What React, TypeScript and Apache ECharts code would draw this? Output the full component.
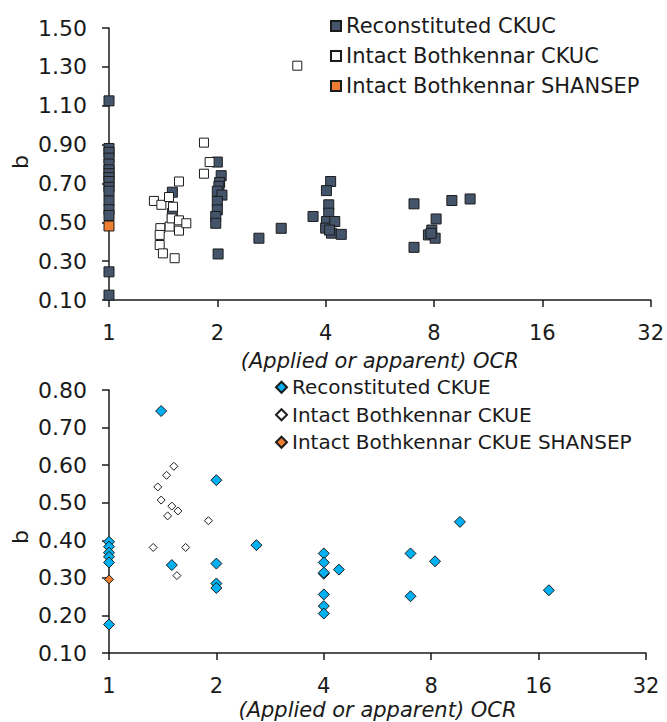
import React, { useEffect, useRef } from "react";
import * as echarts from "echarts";

// ---- Top panel (CKUC) ----
const recCkucX = [1, 1, 1, 1, 1, 1, 1, 1, 1, 1, 1, 1, 1, 1, 1, 1,
  1.5, 1.5,
  2, 2.05, 2.03, 2.02, 2, 2.06, 2, 2, 1.98, 1.98, 2.01,
  2.61, 3.01, 3.69, 4.13, 4.02, 4.08, 4.08, 4.02, 4.0, 4.24, 4.15, 4.42, 4.1,
  7.04, 7.04, 8.11, 7.89, 7.72, 8.06, 7.85, 8.97, 10.08];
const recCkucY = [1.125, 0.88, 0.86, 0.83, 0.80, 0.77, 0.75, 0.73, 0.71, 0.68, 0.66, 0.61, 0.565, 0.535, 0.245, 0.125,
  0.655, 0.545,
  0.81, 0.74, 0.705, 0.685, 0.66, 0.64, 0.607, 0.564, 0.53, 0.495, 0.337,
  0.418, 0.469, 0.53, 0.71, 0.663, 0.59, 0.547, 0.504, 0.47, 0.504, 0.444, 0.438, 0.46,
  0.595, 0.371, 0.517, 0.46, 0.435, 0.418, 0.443, 0.612, 0.62];

const intCkucX = [1.333, 1.398, 1.468, 1.565, 1.506, 1.389, 1.383, 1.383, 1.412, 1.522,
  1.474, 1.493, 1.565, 1.565, 1.64, 1.836, 1.904, 1.836, 3.336];
const intCkucY = [0.61, 0.59, 0.63, 0.71, 0.58, 0.47, 0.435, 0.383, 0.34, 0.315,
  0.478, 0.52, 0.51, 0.457, 0.495, 0.91, 0.81, 0.75, 1.306];

const shanCkucX = [1];
const shanCkucY = [0.481];

// ---- Bottom panel (CKUE) ----
const recCkueX = [1, 1, 1, 1, 1, 1,
  1.4, 1.5, 2, 2, 2, 2, 2.59,
  4, 4, 4, 4, 4, 4, 4, 4.41,
  7.0, 7.0, 8.2, 9.63, 17.1];
const recCkueY = [0.396, 0.383, 0.367, 0.356, 0.341, 0.176,
  0.744, 0.334, 0.56, 0.338, 0.285, 0.273, 0.387,
  0.365, 0.341, 0.311, 0.314, 0.256, 0.225, 0.205, 0.322,
  0.365, 0.251, 0.344, 0.449, 0.267];

const intCkueX = [1.33, 1.37, 1.40, 1.45, 1.52, 1.46, 1.50, 1.56, 1.64, 1.55, 1.90];
const intCkueY = [0.381, 0.542, 0.507, 0.573, 0.597, 0.465, 0.491, 0.478, 0.381, 0.306, 0.452];

const shanCkueX = [1];
const shanCkueY = [0.296];

const xTicks = [1, 2, 4, 8, 16, 32];

const pairs = (xs: number[], ys: number[]) => xs.map((x, i) => [x, ys[i]]);

const FONT = "DejaVu Sans";
const TEXT = "#1a1a1a";
const DARK = "#44546A";
const ORANGE = "#ED7D31";
const BLUE = "#00B0F0";

export default function App() {
  const ref = useRef<HTMLDivElement>(null);
  useEffect(() => {
    if (!ref.current) return;
    const chart = echarts.init(ref.current, null, { renderer: "svg" });

    const axisLine = { show: true, lineStyle: { color: TEXT, width: 1.5 } };
    const axisTick = { show: true, length: 7, lineStyle: { color: TEXT, width: 1.5 } };

    const xAxisCommon = (gridIndex: number, nameGap: number) => ({
      type: "log",
      logBase: 2,
      gridIndex,
      min: xTicks[0],
      max: xTicks[xTicks.length - 1],
      splitLine: { show: false },
      axisLine,
      axisTick,
      axisLabel: {
        fontFamily: FONT,
        fontSize: 21,
        color: TEXT,
        margin: 22,
        formatter: (v: number) => String(Math.round(v)),
      },
      name: "(Applied or apparent) OCR",
      nameLocation: "middle",
      nameGap,
      nameTextStyle: { fontFamily: FONT, fontSize: 21, fontStyle: "italic", color: TEXT },
    });

    const yAxisCommon = (gridIndex: number, min: number, max: number, interval: number) => ({
      type: "value",
      gridIndex,
      min,
      max,
      interval,
      splitLine: { show: false },
      axisLine,
      axisTick,
      axisLabel: {
        fontFamily: FONT,
        fontSize: 22,
        color: TEXT,
        margin: 22,
        formatter: (v: number) => v.toFixed(2),
      },
    });

    const legendText = (size: number, lh: number) => ({
      fontFamily: FONT,
      fontSize: size,
      color: TEXT,
      lineHeight: lh,
    });

    const style = (color: string) => ({ color, borderColor: "#1c1c1c", borderWidth: 1, opacity: 1 });

    chart.setOption({
      animation: false,
      grid: [
        { left: 109, top: 28, width: 542, height: 272 },
        { left: 109, top: 390, width: 537, height: 263 },
      ],
      xAxis: [xAxisCommon(0, 50), xAxisCommon(1, 46)],
      yAxis: [yAxisCommon(0, 0.1, 1.5, 0.2), yAxisCommon(1, 0.1, 0.8, 0.1)],
      legend: [
        {
          orient: "vertical",
          left: 325,
          top: 8,
          itemWidth: 10,
          itemHeight: 10,
          itemGap: 4,
          itemStyle: { opacity: 1 },
          textStyle: legendText(21, 26),
          data: ["Reconstituted CKUC", "Intact Bothkennar CKUC", "Intact Bothkennar SHANSEP"],
        },
        {
          orient: "vertical",
          left: 270,
          top: 370,
          itemWidth: 11,
          itemHeight: 11,
          itemGap: 3,
          itemStyle: { opacity: 1 },
          textStyle: legendText(20, 24.5),
          data: ["Reconstituted CKUE", "Intact Bothkennar CKUE", "Intact Bothkennar CKUE SHANSEP"],
        },
      ],
      graphic: [
        {
          type: "text",
          x: 20,
          y: 162,
          rotation: Math.PI / 2,
          style: { text: "b", fontFamily: FONT, fontSize: 22, fill: TEXT, align: "center", verticalAlign: "middle" },
        },
        {
          type: "text",
          x: 20,
          y: 537,
          rotation: Math.PI / 2,
          style: { text: "b", fontFamily: FONT, fontSize: 22, fill: TEXT, align: "center", verticalAlign: "middle" },
        },
      ],
      series: [
        {
          name: "Reconstituted CKUC",
          type: "scatter",
          xAxisIndex: 0,
          yAxisIndex: 0,
          symbol: "rect",
          symbolSize: 10,
          clip: false,
          itemStyle: style(DARK),
          data: pairs(recCkucX, recCkucY),
        },
        {
          name: "Intact Bothkennar CKUC",
          type: "scatter",
          xAxisIndex: 0,
          yAxisIndex: 0,
          symbol: "rect",
          symbolSize: 9,
          clip: false,
          itemStyle: style("#ffffff"),
          data: pairs(intCkucX, intCkucY),
        },
        {
          name: "Intact Bothkennar SHANSEP",
          type: "scatter",
          xAxisIndex: 0,
          yAxisIndex: 0,
          symbol: "rect",
          symbolSize: 10,
          clip: false,
          itemStyle: style(ORANGE),
          data: pairs(shanCkucX, shanCkucY),
        },
        {
          name: "Reconstituted CKUE",
          type: "scatter",
          xAxisIndex: 1,
          yAxisIndex: 1,
          symbol: "diamond",
          symbolSize: 11,
          clip: false,
          itemStyle: style(BLUE),
          data: pairs(recCkueX, recCkueY),
        },
        {
          name: "Intact Bothkennar CKUE",
          type: "scatter",
          xAxisIndex: 1,
          yAxisIndex: 1,
          symbol: "diamond",
          symbolSize: 8,
          clip: false,
          itemStyle: style("#ffffff"),
          data: pairs(intCkueX, intCkueY),
        },
        {
          name: "Intact Bothkennar CKUE SHANSEP",
          type: "scatter",
          xAxisIndex: 1,
          yAxisIndex: 1,
          symbol: "diamond",
          symbolSize: 9,
          clip: false,
          itemStyle: style(ORANGE),
          data: pairs(shanCkueX, shanCkueY),
        },
      ],
    });
    return () => chart.dispose();
  }, []);

  return (
    <div
      ref={ref}
      style={{ position: "fixed", left: 0, top: 0, width: 667, height: 722, background: "#fff" }}
    />
  );
}
